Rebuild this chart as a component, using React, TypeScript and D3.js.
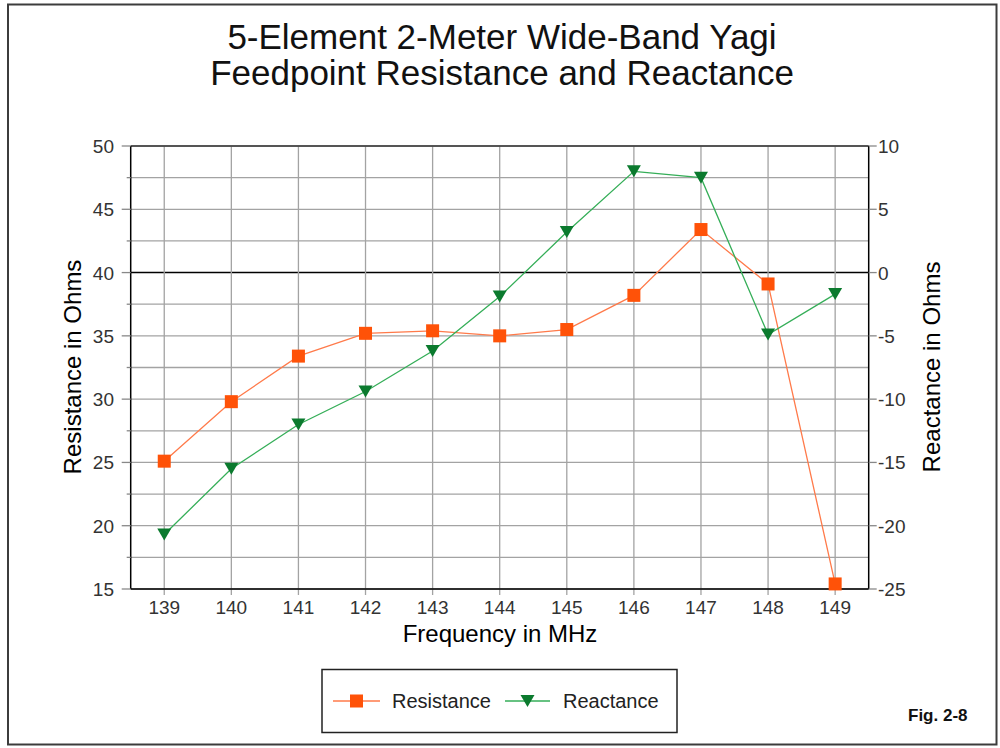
import React from "react";
import * as d3 from "d3";

const frequencies = ["139", "140", "141", "142", "143", "144", "145", "146", "147", "148", "149"];
const resistance = [25.1, 29.8, 33.4, 35.2, 35.4, 35.0, 35.5, 38.2, 43.4, 39.1, 15.4];
const reactance = [-20.7, -15.5, -12.0, -9.4, -6.2, -1.9, 3.2, 8.0, 7.5, -4.9, -1.7];
const leftTicks = [15, 20, 25, 30, 35, 40, 45, 50];
const rightTicks = [-25, -20, -15, -10, -5, 0, 5, 10];
const titleLines = ["5-Element 2-Meter Wide-Band Yagi", "Feedpoint Resistance and Reactance"];
const seriesNames = ["Resistance", "Reactance"];

const W = 1000;
const H = 748;
const plot = { left: 130.7, right: 868.7, top: 146, bottom: 589 };
const FONT = "'Liberation Sans', Arial, sans-serif";
const resColor = "#FF5208";
const resLine = "#FF7A4A";
const reaColor = "#0B7A2E";
const reaLine = "#35AE58";
const gridColor = "#a3a3a3";

export default function App() {
  const x = d3
    .scaleBand<string>()
    .domain(frequencies)
    .range([plot.left, plot.right])
    .paddingInner(0)
    .paddingOuter(0);
  const cx = (f: string) => (x(f) as number) + x.bandwidth() / 2;
  const yL = d3.scaleLinear().domain([15, 50]).range([plot.bottom, plot.top]);
  const yR = d3.scaleLinear().domain([-25, 10]).range([plot.bottom, plot.top]);

  const minorLeft = d3.range(15, 50.01, 2.5);

  const resLineGen = d3
    .line<number>()
    .x((_, i) => cx(frequencies[i]))
    .y((d) => yL(d));
  const reaLineGen = d3
    .line<number>()
    .x((_, i) => cx(frequencies[i]))
    .y((d) => yR(d));

  const sq = 13;
  const tri = (px: number, py: number) =>
    `M${px - 7},${py - 6}L${px + 7},${py - 6}L${px},${py + 6}Z`;

  return (
    <div style={{ position: "absolute", left: 0, top: 0, width: W, height: H }}>
      <svg width={W} height={H} style={{ display: "block" }} fontFamily={FONT}>
        <rect x={0} y={0} width={W} height={H} fill="#fff" />
        <rect x={8} y={4.5} width={988.5} height={740} fill="none" stroke="#3c3c3c" strokeWidth={2} />

        {titleLines.map((t, i) => (
          <text key={t} x={502} y={49 + i * 36} textAnchor="middle" fontSize={35} fill="#111">
            {t}
          </text>
        ))}

        {/* horizontal gridlines */}
        {minorLeft.map((v) => (
          <line
            key={"h" + v}
            x1={plot.left}
            x2={plot.right}
            y1={yL(v)}
            y2={yL(v)}
            stroke={v === 40 ? "#000" : gridColor}
            strokeWidth={v === 40 ? 1.5 : 1.3}
          />
        ))}
        {/* vertical gridlines */}
        {frequencies.map((f) => (
          <line
            key={"v" + f}
            x1={cx(f)}
            x2={cx(f)}
            y1={plot.top}
            y2={plot.bottom + 6}
            stroke={gridColor}
            strokeWidth={1.3}
          />
        ))}

        {/* plot border */}
        <line x1={plot.left} x2={plot.right} y1={plot.top} y2={plot.top} stroke="#333" strokeWidth={1.5} />
        <line x1={plot.left} x2={plot.right} y1={plot.bottom} y2={plot.bottom} stroke="#000" strokeWidth={1.5} />
        <line x1={plot.left} x2={plot.left} y1={plot.top} y2={plot.bottom} stroke="#000" strokeWidth={1.5} />
        <line x1={plot.right} x2={plot.right} y1={plot.top} y2={plot.bottom} stroke="#000" strokeWidth={1.5} />

        {/* left ticks */}
        {minorLeft.map((v) => (
          <line
            key={"lt" + v}
            x1={plot.left - (v % 5 === 0 ? 9 : 4)}
            x2={plot.left}
            y1={yL(v)}
            y2={yL(v)}
            stroke="#888"
            strokeWidth={1.3}
          />
        ))}
        {leftTicks.map((v) => (
          <text key={"ll" + v} x={114} y={yL(v) + 7} textAnchor="end" fontSize={19} fill="#333">
            {v}
          </text>
        ))}
        {/* right ticks */}
        {rightTicks.map((v) => (
          <line
            key={"rt" + v}
            x1={plot.right}
            x2={plot.right + 8}
            y1={yR(v)}
            y2={yR(v)}
            stroke="#888"
            strokeWidth={1.3}
          />
        ))}
        {rightTicks.map((v) => (
          <text key={"rl" + v} x={878} y={yR(v) + 7} textAnchor="start" fontSize={19} fill="#333">
            {v}
          </text>
        ))}
        {/* x labels */}
        {frequencies.map((f) => (
          <text key={"xl" + f} x={cx(f)} y={614} textAnchor="middle" fontSize={19} fill="#333">
            {f}
          </text>
        ))}

        {/* axis titles */}
        <text x={500} y={642} textAnchor="middle" fontSize={24} fill="#000">
          Frequency in MHz
        </text>
        <text
          transform={`translate(81,367) rotate(-90)`}
          textAnchor="middle"
          fontSize={24}
          fill="#000"
        >
          Resistance in Ohms
        </text>
        <text
          transform={`translate(940,367) rotate(-90)`}
          textAnchor="middle"
          fontSize={24}
          fill="#000"
        >
          Reactance in Ohms
        </text>

        {/* series */}
        <path d={resLineGen(resistance) || ""} fill="none" stroke={resLine} strokeWidth={1.3} />
        <path d={reaLineGen(reactance) || ""} fill="none" stroke={reaLine} strokeWidth={1.3} />
        {resistance.map((v, i) => (
          <rect
            key={"rs" + i}
            x={cx(frequencies[i]) - sq / 2}
            y={yL(v) - sq / 2}
            width={sq}
            height={sq}
            fill={resColor}
          />
        ))}
        {reactance.map((v, i) => (
          <path key={"rx" + i} d={tri(cx(frequencies[i]), yR(v))} fill={reaColor} />
        ))}

        {/* legend */}
        <rect x={322} y={669.5} width={355} height={63} fill="#fff" stroke="#222" strokeWidth={1.5} />
        <line x1={333} x2={380} y1={701} y2={701} stroke={resLine} strokeWidth={1.3} />
        <rect x={356.5 - sq / 2} y={701 - sq / 2} width={sq} height={sq} fill={resColor} />
        <text x={392} y={708} fontSize={20} fill="#222">
          {seriesNames[0]}
        </text>
        <line x1={505} x2={550} y1={701} y2={701} stroke={reaLine} strokeWidth={1.3} />
        <path d={tri(527.5, 701)} fill={reaColor} />
        <text x={563} y={708} fontSize={20} fill="#222">
          {seriesNames[1]}
        </text>

        <text x={908} y={721} fontSize={17} fontWeight="bold" fill="#111">
          Fig. 2-8
        </text>
      </svg>
    </div>
  );
}
